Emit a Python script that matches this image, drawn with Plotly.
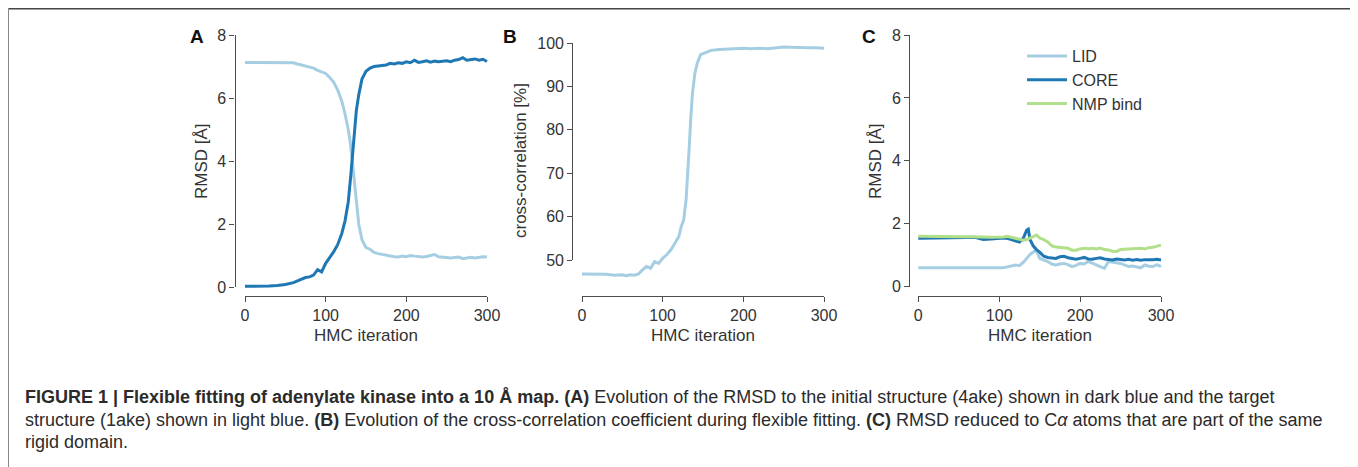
import plotly.graph_objects as go

OFF = 8            # default body margin of the html page
W, H = 1358, 467

# ---------------- data ----------------
A_iter = [0, 10, 20, 30, 40, 50, 60, 65, 70, 75, 80, 85, 90, 95, 100, 105, 110, 115, 120, 124, 128, 131, 133,
          135, 138, 141, 145, 150, 155, 160, 165, 170, 175, 180, 185, 190, 195, 200, 205, 210, 215, 220, 225,
          230, 235, 240, 245, 250, 255, 260, 265, 270, 275, 280, 285, 290, 295, 300]
A_target_1ake = [7.13, 7.13, 7.13, 7.13, 7.13, 7.13, 7.12, 7.08, 7.05, 7.02, 6.98, 6.95, 6.88, 6.83, 6.78, 6.65,
                 6.5, 6.25, 5.9, 5.5, 5.0, 4.5, 4.0, 3.3, 2.6, 2.0, 1.5, 1.25, 1.2, 1.1, 1.06, 1.03, 1.0, 0.98,
                 0.96, 0.95, 0.98, 0.96, 1.0, 0.98, 0.97, 0.95, 0.97, 0.99, 1.03, 0.96, 0.95, 0.93, 0.92, 0.94,
                 0.95, 0.9, 0.93, 0.94, 0.92, 0.95, 0.96, 0.95]
A_initial_4ake = [0.02, 0.02, 0.02, 0.03, 0.05, 0.08, 0.14, 0.2, 0.26, 0.3, 0.32, 0.38, 0.55, 0.48, 0.75, 0.92,
                  1.12, 1.35, 1.7, 2.1, 2.7, 3.5, 4.1, 4.9, 5.6, 6.1, 6.6, 6.85, 6.95, 7.0, 7.02, 7.05, 7.05, 7.1,
                  7.08, 7.12, 7.1, 7.15, 7.12, 7.2, 7.13, 7.15, 7.18, 7.14, 7.17, 7.15, 7.16, 7.18, 7.15, 7.2,
                  7.22, 7.28, 7.2, 7.22, 7.24, 7.2, 7.23, 7.16]

B_iter = [0, 10, 20, 30, 40, 50, 55, 60, 65, 70, 75, 80, 85, 90, 95, 100, 105, 110, 115, 120, 123, 126, 129,
          131, 133, 135, 137, 140, 143, 147, 152, 160, 170, 180, 190, 200, 210, 220, 230, 240, 250, 260, 270,
          280, 290, 300]
B_cc = [46.8, 46.8, 46.7, 46.7, 46.5, 46.6, 46.4, 46.6, 46.5, 46.8, 47.7, 48.5, 48.1, 49.6, 49.2, 50.4, 51.2,
        52.3, 53.8, 55.4, 57.7, 59.2, 63.8, 69.2, 76.2, 83.1, 88.5, 93.1, 95.4, 97.3, 97.7, 98.3, 98.5, 98.6,
        98.6, 98.8, 98.7, 98.8, 98.7, 98.9, 99.1, 99.0, 98.9, 98.9, 98.9, 98.8]

C_iter = [0, 10, 20, 30, 40, 50, 60, 70, 80, 90, 100, 105, 110, 115, 120, 125, 130, 134, 136, 138, 142, 146,
          150, 155, 160, 165, 170, 175, 180, 185, 190, 195, 200, 205, 210, 215, 220, 225, 230, 235, 240, 245,
          250, 255, 260, 265, 270, 275, 280, 285, 290, 295, 300]
C_lid = [0.6, 0.6, 0.6, 0.6, 0.6, 0.6, 0.6, 0.6, 0.59, 0.58, 0.58, 0.6, 0.63, 0.66, 0.69, 0.67, 0.78, 0.9,
         0.97, 1.02, 1.1, 1.15, 0.9, 0.85, 0.8, 0.72, 0.69, 0.72, 0.74, 0.7, 0.64, 0.68, 0.74, 0.72, 0.8, 0.75,
         0.69, 0.62, 0.58, 0.8, 0.79, 0.76, 0.74, 0.7, 0.64, 0.66, 0.62, 0.6, 0.69, 0.65, 0.64, 0.7, 0.64]
C_core = [1.54, 1.54, 1.55, 1.55, 1.55, 1.56, 1.56, 1.57, 1.5, 1.52, 1.55, 1.55, 1.54, 1.5, 1.45, 1.42, 1.55,
          1.8, 1.83, 1.5, 1.3, 1.18, 1.1, 0.97, 0.93, 0.92, 0.9, 0.95, 0.97, 0.92, 0.9, 0.87, 0.9, 0.93, 0.88,
          0.87, 0.9, 0.92, 0.88, 0.86, 0.85, 0.88, 0.86, 0.85, 0.87, 0.84, 0.86, 0.84, 0.86, 0.85, 0.86, 0.87,
          0.85]
C_nmp = [1.6, 1.6, 1.6, 1.6, 1.6, 1.59, 1.59, 1.6, 1.58, 1.57, 1.57, 1.58, 1.6, 1.57, 1.55, 1.52, 1.48, 1.5,
         1.52, 1.55, 1.6, 1.64, 1.55, 1.5, 1.42, 1.3, 1.26, 1.24, 1.22, 1.22, 1.16, 1.16, 1.2, 1.22, 1.21, 1.22,
         1.2, 1.23, 1.18, 1.17, 1.13, 1.12, 1.18, 1.19, 1.18, 1.2, 1.2, 1.22, 1.2, 1.24, 1.25, 1.28, 1.32]
C_names = ["LID", "CORE", "NMP bind"]

x_ticks = [0, 100, 200, 300]
A_yticks = [0, 2, 4, 6, 8]
B_yticks = [50, 60, 70, 80, 90, 100]
C_yticks = [0, 2, 4, 6, 8]

LIGHT, DARK, GREEN = "#a6cee3", "#1f78b4", "#b2df8a"
FONT = "Liberation Sans, Arial, sans-serif"
TXT = "#333333"

# ---------------- geometry helpers (window pixels -> paper) ----------------
def fx(p):
    return (p - OFF) / W

def fy(p):
    return 1 - (p - OFF) / H

def xdom(v0, p0, v1, p1, a, b):
    s = (p1 - p0) / (v1 - v0)
    pa, pb = p0 + (a - v0) * s, p0 + (b - v0) * s
    return [fx(min(pa, pb)), fx(max(pa, pb))]

def ydom(v0, p0, v1, p1, a, b):
    s = (p1 - p0) / (v1 - v0)
    pa, pb = p0 + (a - v0) * s, p0 + (b - v0) * s
    return [fy(max(pa, pb)), fy(min(pa, pb))]

panels = {
    "A": dict(x0=245, x1=487, yv0=0, yp0=287, yv1=8, yp1=35, spine=234.5, yr=[-0.3, 8.0]),
    "B": dict(x0=582, x1=824, yv0=50, yp0=260, yv1=100, yp1=43, spine=572.3, yr=[45.0, 100.5]),
    "C": dict(x0=918.3, x1=1161, yv0=0, yp0=286.7, yv1=8, yp1=35, spine=909.3, yr=[-0.3, 8.0]),
}
XSPINE_Y = 296
LW = 3

fig = go.Figure()

fig.add_trace(go.Scatter(x=A_iter, y=A_target_1ake, mode="lines", line=dict(color=LIGHT, width=LW),
                         showlegend=False, xaxis="x", yaxis="y"))
fig.add_trace(go.Scatter(x=A_iter, y=A_initial_4ake, mode="lines", line=dict(color=DARK, width=LW),
                         showlegend=False, xaxis="x", yaxis="y"))
fig.add_trace(go.Scatter(x=B_iter, y=B_cc, mode="lines", line=dict(color=LIGHT, width=LW),
                         showlegend=False, xaxis="x2", yaxis="y2"))
for name, vals, col in zip(C_names, [C_lid, C_core, C_nmp], [LIGHT, DARK, GREEN]):
    fig.add_trace(go.Scatter(x=C_iter, y=vals, mode="lines", name=name, line=dict(color=col, width=LW),
                             xaxis="x3", yaxis="y3"))

for i in (4, 5, 6):
    fig.add_trace(go.Scatter(x=[None], y=[None], mode="lines", showlegend=False, hoverinfo="skip",
                             xaxis=f"x{i}", yaxis=f"y{i}"))

layout = dict(
    template="none",
    width=W, height=H, margin=dict(l=0, r=0, t=0, b=0, pad=0, autoexpand=False),
    paper_bgcolor="white", plot_bgcolor="rgba(0,0,0,0)",
    font=dict(family=FONT, color=TXT, size=16),
    showlegend=True,
    legend=dict(x=fx(1022), y=fy(39), xanchor="left", yanchor="top", bgcolor="rgba(0,0,0,0)",
                borderwidth=0, itemwidth=40, font=dict(family=FONT, size=16, color=TXT)),
)

ytick_sets = {"A": A_yticks, "B": B_yticks, "C": C_yticks}
for idx, key in enumerate(["A", "B", "C"]):
    p = panels[key]
    n = idx + 1
    sfx = "" if n == 1 else str(n)
    layout[f"xaxis{sfx}"] = dict(domain=xdom(0, p["x0"], 300, p["x1"], -4, 304), range=[-4, 304],
                                 visible=False, anchor=f"y{sfx}", automargin=False)
    layout[f"yaxis{sfx}"] = dict(domain=ydom(p["yv0"], p["yp0"], p["yv1"], p["yp1"], p["yr"][0], p["yr"][1]),
                                 range=p["yr"], visible=False, anchor=f"x{sfx}", automargin=False)
    yt = ytick_sets[key]
    common = dict(showline=True, linecolor="#4d4d4d", linewidth=1.3, ticks="outside", ticklen=5,
                  tickwidth=1.3, tickcolor="#4d4d4d", showgrid=False, zeroline=False, automargin=False,
                  tickfont=dict(family=FONT, size=16, color=TXT))
    m = n + 3
    layout[f"xaxis{m}"] = dict(domain=[fx(p["x0"]), fx(p["x1"])], range=[0, 300], tickvals=x_ticks,
                               anchor="free", position=fy(XSPINE_Y), **common)
    layout[f"yaxis{m}"] = dict(domain=ydom(p["yv0"], p["yp0"], p["yv1"], p["yp1"], yt[0], yt[-1]),
                               range=[yt[0], yt[-1]], tickvals=yt, anchor="free", position=fx(p["spine"]),
                               **common)

annotations = []
for letter, px in (("A", 197), ("B", 510), ("C", 869)):
    annotations.append(dict(text=f"<b>{letter}</b>", x=fx(px), y=fy(36), xref="paper", yref="paper",
                            showarrow=False, xanchor="center", yanchor="middle",
                            font=dict(family=FONT, size=19, color="#111111")))
for text, px in (("RMSD [Å]", 201), ("cross-correlation [%]", 520), ("RMSD [Å]", 875)):
    annotations.append(dict(text=text, x=fx(px), y=fy(161), xref="paper", yref="paper", textangle=-90,
                            showarrow=False, xanchor="center", yanchor="middle",
                            font=dict(family=FONT, size=17, color=TXT)))
for px in (366, 703, 1040):
    annotations.append(dict(text="HMC iteration", x=fx(px), y=fy(335), xref="paper", yref="paper",
                            showarrow=False, xanchor="center", yanchor="middle",
                            font=dict(family=FONT, size=17, color=TXT)))

caption_lines = [
    "<b>FIGURE 1 | Flexible fitting of adenylate kinase into a 10 Å map. (A)</b> Evolution of the RMSD to the "
    "initial structure (4ake) shown in dark blue and the target",
    "structure (1ake) shown in light blue. <b>(B)</b> Evolution of the cross-correlation coefficient during "
    "flexible fitting. <b>(C)</b> RMSD reduced to C<i>α</i> atoms that are part of the same",
    "rigid domain.",
]
for text, py in zip(caption_lines, (397, 419.5, 442)):
    annotations.append(dict(text=text, x=fx(22.5), y=fy(py), xref="paper", yref="paper", showarrow=False,
                            xanchor="left", yanchor="middle", align="left",
                            font=dict(family=FONT, size=18, color="#2b2b2b")))
layout["annotations"] = annotations

layout["shapes"] = [
    dict(type="line", xref="paper", yref="paper", x0=fx(7.5), x1=fx(1355.5), y0=fy(8.5), y1=fy(8.5),
         line=dict(color="#444444", width=2)),
    dict(type="line", xref="paper", yref="paper", x0=fx(8), x1=fx(8), y0=fy(8), y1=fy(470),
         line=dict(color="#888888", width=2)),
    dict(type="line", xref="paper", yref="paper", x0=fx(1354.5), x1=fx(1354.5), y0=fy(8), y1=fy(470),
         line=dict(color="#888888", width=2)),
]

fig.update_layout(**layout)
fig.write_html("out.html", config={"responsive": False})
